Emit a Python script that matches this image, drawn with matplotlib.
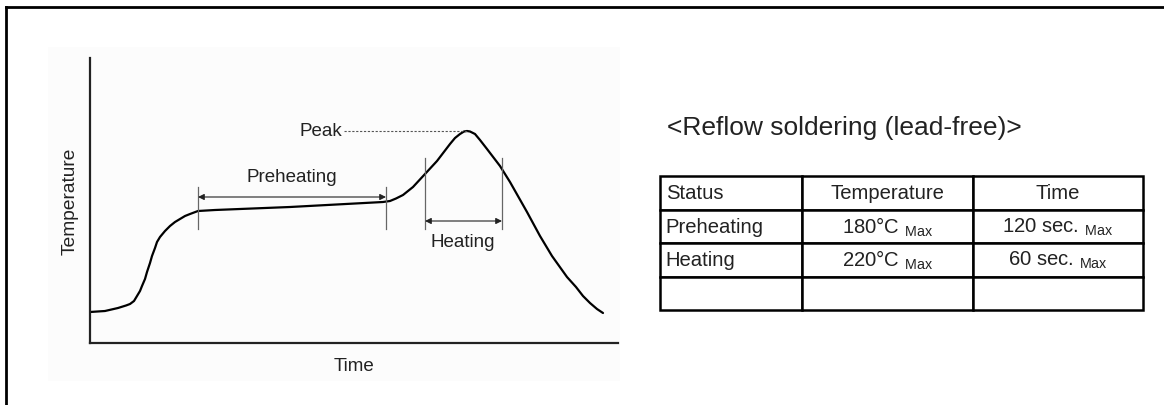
import matplotlib
matplotlib.use("Agg")
import matplotlib.pyplot as plt
from matplotlib.patches import Rectangle
from matplotlib.lines import Line2D

plt.rcParams['font.family'] = ['Liberation Sans', 'DejaVu Sans']
plt.rcParams['mathtext.fontset'] = 'custom'
plt.rcParams['mathtext.rm'] = 'Liberation Sans'

# reflow profile (arbitrary units)
time_pts = [0, 15, 28, 36, 40, 44, 47, 50, 52, 55, 57, 60, 62, 65, 67, 70, 75,
            80, 85, 90, 95, 100, 108, 125, 200, 293, 300, 306, 313, 323, 335,
            347, 360, 365, 370, 374, 377, 380, 385, 390, 397, 410, 420, 437,
            450, 462, 477, 486, 493, 500, 507, 513]
temp_pts = [31, 32, 35, 37.5, 39, 42, 47, 52, 57, 64, 71, 80, 87, 95, 101, 106,
            112, 117, 121, 124, 127, 129, 132, 133, 136, 141, 142, 144.5, 148,
            156, 169, 182, 199, 205, 209, 211.5, 212, 211.5, 209, 203, 194, 177,
            161, 131, 107, 87, 66, 56, 47, 40, 34, 30]

preheat_span = (108, 296)
heat_span = (335, 412)
peak = (377, 212)

# table content
table_cols = ['Status', 'Temperature', 'Time']
table_rows = [
    ['Preheating', '180\u00b0C $_{\\rm Max}$', '120 sec. $_{\\rm Max}$'],
    ['Heating', '220\u00b0C $_{\\rm Max}$', '60 sec. $_{\\rm Max}$'],
    ['', '', ''],
]

W, H = 1164, 406
fig = plt.figure(figsize=(W / 100, H / 100), dpi=100)
fig.patch.set_facecolor('white')

# faint grey background of the pasted diagram + frame lines (top / left)
fig.add_artist(Rectangle((48 / W, 1 - 382 / H), (620 - 48) / W, (382 - 48) / H,
                         transform=fig.transFigure, facecolor='#fcfcfc',
                         edgecolor='none', zorder=0))
fig.add_artist(Line2D([6 / W, 1], [1 - 8 / H, 1 - 8 / H], transform=fig.transFigure,
                      color='black', lw=2))
fig.add_artist(Line2D([6 / W, 6 / W], [0, 1 - 8 / H], transform=fig.transFigure,
                      color='black', lw=2))

ax = fig.add_axes([90 / W, 1 - 344 / H, (618 - 90) / W, (344 - 59) / H])
ax.patch.set_alpha(0)
ax.set_xlim(0, 528)
ax.set_ylim(0, 285)
ax.set_xticks([])
ax.set_yticks([])
for s in ['top', 'right']:
    ax.spines[s].set_visible(False)
for s in ['left', 'bottom']:
    ax.spines[s].set_linewidth(1.6)
    ax.spines[s].set_color('#222222')

ax.plot(time_pts, temp_pts, color='black', lw=1.6, solid_capstyle='round',
        solid_joinstyle='round')

txt_kw = dict(fontsize=13.5, color='#222222')
ax.set_xlabel('Time', fontsize=13.5, color='#222222', labelpad=10)
ax.set_ylabel('Temperature', fontsize=13.8, color='#222222', labelpad=8)

tick_c = '#666666'
# preheating markers
for t in preheat_span:
    ax.plot([t, t], [114, 156], color=tick_c, lw=0.9)
ax.annotate('', xy=(preheat_span[0], 146), xytext=(preheat_span[1], 146),
            arrowprops=dict(arrowstyle='<|-|>', color='#222222', lw=0.8,
                            mutation_scale=9, shrinkA=0, shrinkB=0))
ax.text(sum(preheat_span) / 2, 166, 'Preheating', ha='center', va='center', **txt_kw)

# heating markers
for t in heat_span:
    ax.plot([t, t], [114, 185], color=tick_c, lw=0.9)
ax.annotate('', xy=(heat_span[0], 122), xytext=(heat_span[1], 122),
            arrowprops=dict(arrowstyle='<|-|>', color='#222222', lw=0.8,
                            mutation_scale=9, shrinkA=0, shrinkB=0))
ax.text(373, 101, 'Heating', ha='center', va='center', **txt_kw)

# peak
ax.plot([254, peak[0]], [peak[1], peak[1]], color='#555555', lw=0.8, ls=(0, (2, 1.5)))
ax.text(252, peak[1], 'Peak', ha='right', va='center', **txt_kw)

# right side: title and table
fig.text(667 / W, 1 - 128 / H, '<Reflow soldering (lead-free)>', fontsize=19,
         color='#222222', ha='left', va='center')

tab_ax = fig.add_axes([660 / W, 1 - 311 / H, (1143 - 660) / W, (311 - 177) / H])
tab_ax.axis('off')
col_w = [142 / 483, 171 / 483, 170 / 483]
tbl = tab_ax.table(cellText=table_rows, colLabels=table_cols, colWidths=col_w,
                   cellLoc='center', bbox=[0, 0, 1, 1])
tbl.auto_set_font_size(False)
tbl.set_fontsize(14.6)
for (r, c), cell in tbl.get_celld().items():
    cell.set_linewidth(1.8)
    cell.set_edgecolor('black')
    cell.get_text().set_color('#222222')
    if c == 0:
        cell._loc = 'left'
        cell.PAD = 0.04
        cell.get_text().set_ha('left')

fig.savefig('out.png', dpi=100)
